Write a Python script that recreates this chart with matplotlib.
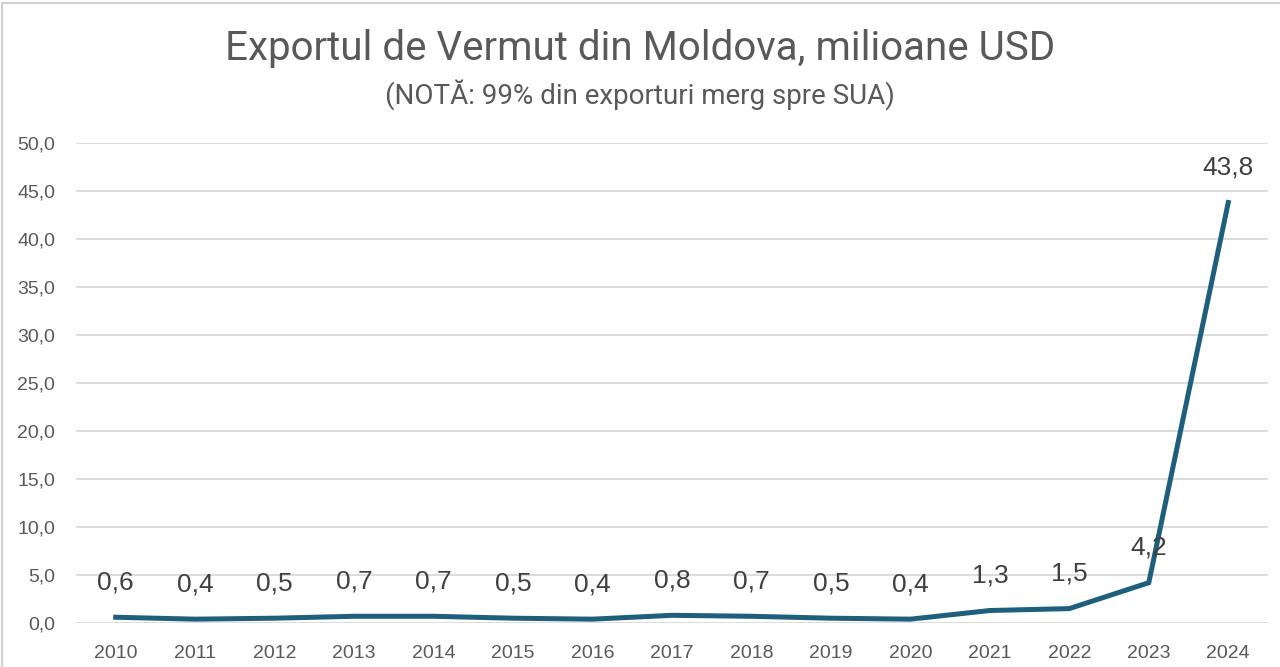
import matplotlib
matplotlib.use("Agg")
import matplotlib.pyplot as plt
from matplotlib import font_manager
from matplotlib.patches import Rectangle

years = ["2010", "2011", "2012", "2013", "2014", "2015", "2016", "2017",
         "2018", "2019", "2020", "2021", "2022", "2023", "2024"]
values = [0.6, 0.4, 0.5, 0.7, 0.7, 0.5, 0.4, 0.8, 0.7, 0.5, 0.4, 1.3, 1.5, 4.2, 43.8]
yticks = [0, 5, 10, 15, 20, 25, 30, 35, 40, 45, 50]

names = {f.name for f in font_manager.fontManager.ttflist}
title_font = "Liberation Sans Narrow" if "Liberation Sans Narrow" in names else "Roboto"
body_font = "Liberation Sans" if "Liberation Sans" in names else "DejaVu Sans"

fig = plt.figure(figsize=(12.8, 6.67), dpi=100)
ax = fig.add_axes([76/1280, 1-623/667, (1268-76)/1280, (623-143)/667])

x = list(range(len(years)))
ax.plot(x, values, color="#1d5f7c", lw=3.6, solid_joinstyle="miter", zorder=3)
for xi, v in zip(x, values):
    ax.annotate(f"{v:.1f}".replace(".", ","), (xi, v), xytext=(0, 25),
                textcoords="offset points", ha="center", va="center",
                fontsize=19, color="#404040", family=body_font, zorder=4)

ax.set_xlim(-0.5, len(years) - 0.5)
ax.set_ylim(0, 50)
ax.set_yticks(yticks)
ax.set_yticklabels([f"{t:.1f}".replace(".", ",") for t in yticks])
ax.set_xticks(x)
ax.set_xticklabels(years)
ax.grid(axis="y", color="#d9d9d9", lw=1.3)
ax.set_axisbelow(True)
for s in ax.spines.values():
    s.set_visible(False)
ax.tick_params(length=0, labelsize=14, labelcolor="#595959", pad=16)
ax.tick_params(axis="y", pad=15)
for lab in ax.get_xticklabels() + ax.get_yticklabels():
    lab.set_family(body_font)

fig.text(0.5, 0.928, "Exportul de Vermut din Moldova, milioane USD", ha="center",
         va="center", fontsize=29, color="#595959", family=title_font)
fig.text(0.5, 0.858, "(NOTĂ: 99% din exporturi merg spre SUA)", ha="center",
         va="center", fontsize=20, color="#595959", family=title_font)

fig.patches.append(Rectangle((0.0015, -0.01), 1.1, 1.005, transform=fig.transFigure,
                             fill=False, edgecolor="#d0d0d0", lw=1.5))

fig.savefig("out.png", dpi=100)
